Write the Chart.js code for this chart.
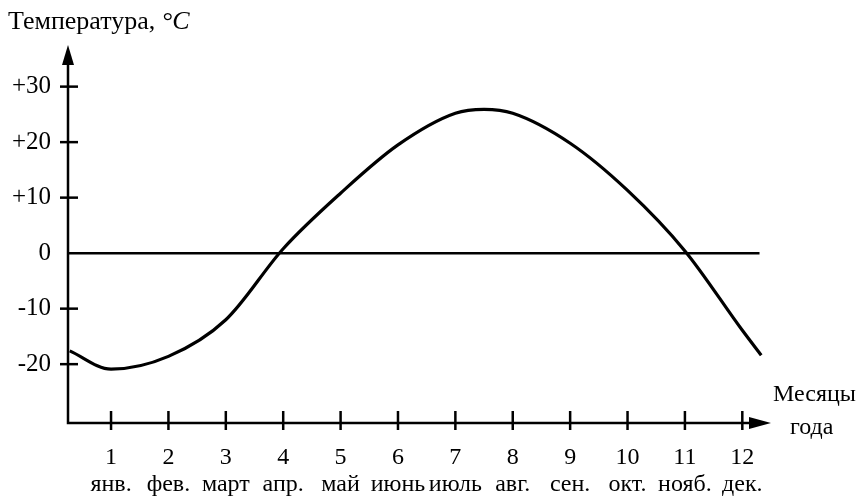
<!DOCTYPE html>
<html>
<head>
<meta charset="utf-8">
<script src="https://cdn.jsdelivr.net/npm/chart.js@4"></script>
<style>
  html, body { margin: 0; padding: 0; background: #fff; }
  #wrap { width: 857px; height: 503px; }
</style>
</head>
<body>
<div id="wrap"><canvas id="chart" width="857" height="503"></canvas></div>
<script>
const monthNums = [1, 2, 3, 4, 5, 6, 7, 8, 9, 10, 11, 12];
const monthNames = ['янв.', 'фев.', 'март', 'апр.', 'май', 'июнь', 'июль', 'авг.', 'сен.', 'окт.', 'нояб.', 'дек.'];
const yTicks = [-20, -10, 0, 10, 20, 30];

// temperature curve
const curveX = [0.28, 1, 2, 3, 4, 5, 6, 7, 7.5, 8, 9, 10, 11, 12, 12.33];
const curveY = [-17.6, -20.9, -18.6, -12, 0.8, 10.8, 19.5, 25.2, 25.9, 25.2, 19.8, 11.3, 0.4, -13.9, -18.4];

const zeroLineX = [0.25, 12.3];

const FONT = '"Liberation Serif", "Times New Roman", serif';
const canvas = document.getElementById('chart');

const axesPlugin = {
  id: 'axesPlugin',
  afterDraw(chart) {
    const ctx = chart.ctx;
    const x = chart.scales.x, y = chart.scales.y;
    const left = x.getPixelForValue(x.min);
    const bottom = y.getPixelForValue(y.min);
    const top = chart.chartArea.top;
    const right = chart.chartArea.right;
    ctx.save();
    ctx.strokeStyle = '#000';
    ctx.fillStyle = '#000';
    ctx.lineWidth = 2.5;

    // axes
    ctx.beginPath();
    ctx.moveTo(left, top + 14);
    ctx.lineTo(left, bottom);
    ctx.lineTo(right - 16, bottom);
    ctx.stroke();

    // arrows
    ctx.beginPath();
    ctx.moveTo(left, top);
    ctx.lineTo(left - 6, top + 20);
    ctx.lineTo(left + 6, top + 20);
    ctx.closePath();
    ctx.fill();
    ctx.beginPath();
    ctx.moveTo(right, bottom);
    ctx.lineTo(right - 22, bottom - 6);
    ctx.lineTo(right - 22, bottom + 6);
    ctx.closePath();
    ctx.fill();

    // tick marks
    yTicks.forEach(v => {
      if (v === 0) return;
      const py = y.getPixelForValue(v);
      ctx.beginPath();
      ctx.moveTo(left - 8, py);
      ctx.lineTo(left + 10, py);
      ctx.stroke();
    });
    monthNums.forEach(v => {
      const px = x.getPixelForValue(v);
      ctx.beginPath();
      ctx.moveTo(px, bottom - 12);
      ctx.lineTo(px, bottom + 7);
      ctx.stroke();
    });

    // labels
    ctx.textBaseline = 'alphabetic';
    ctx.textAlign = 'left';
    ctx.font = '26px ' + FONT;
    const t1 = 'Температура, ';
    ctx.fillText(t1, 8, 29);
    const w1 = ctx.measureText(t1).width;
    ctx.font = 'italic 26px ' + FONT;
    ctx.fillText('°C', 8 + w1, 29);

    ctx.font = '24px ' + FONT;
    ctx.fillText('Месяцы', 773, 401);
    ctx.fillText('года', 790, 434);
    ctx.restore();
  }
};

new Chart(canvas, {
  type: 'line',
  data: {
    datasets: [
      {
        data: curveX.map((v, i) => ({ x: v, y: curveY[i] })),
        borderColor: '#000',
        borderWidth: 3.2,
        pointRadius: 0,
        cubicInterpolationMode: 'monotone',
        fill: false
      },
      {
        data: zeroLineX.map(v => ({ x: v, y: 0 })),
        borderColor: '#000',
        borderWidth: 2.5,
        pointRadius: 0,
        fill: false
      }
    ]
  },
  options: {
    responsive: false,
    animation: false,
    layout: { padding: { top: 45, right: 86, left: 0, bottom: 0 } },
    plugins: { legend: { display: false }, tooltip: { enabled: false }, title: { display: false } },
    scales: {
      x: {
        type: 'linear',
        min: 0.25,
        max: 12.5,
        grid: { display: false, drawTicks: false },
        border: { display: false },
        afterBuildTicks: scale => { scale.ticks = monthNums.map(v => ({ value: v })); },
        afterFit: scale => { scale.height = 80; },
        ticks: {
          autoSkip: false,
          maxRotation: 0,
          padding: 21,
          color: '#000',
          font: { family: FONT, size: 24, lineHeight: 1.12 },
          callback: v => [String(v), monthNames[v - 1]]
        }
      },
      y: {
        min: -30.6,
        max: 37.5,
        grid: { display: false, drawTicks: false },
        border: { display: false },
        afterBuildTicks: scale => { scale.ticks = yTicks.map(v => ({ value: v })); },
        afterFit: scale => { scale.width = 68; },
        ticks: {
          padding: 17,
          color: '#000',
          font: { family: FONT, size: 25 },
          callback: v => (v > 0 ? '+' + v : String(v))
        }
      }
    }
  },
  plugins: [axesPlugin]
});
</script>
</body>
</html>
